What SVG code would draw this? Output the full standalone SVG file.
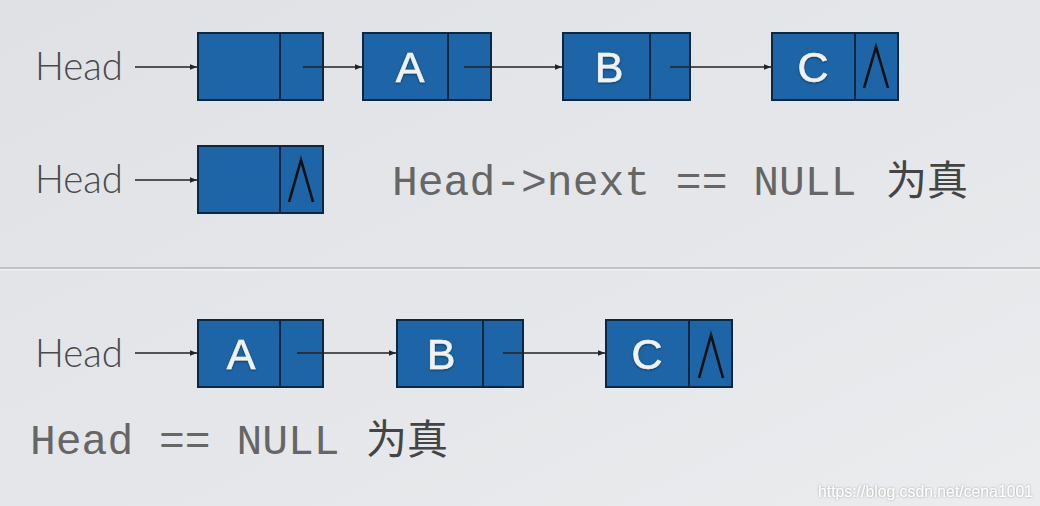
<svg xmlns="http://www.w3.org/2000/svg" width="1040" height="506" viewBox="0 0 1040 506">
<defs>
<linearGradient id="bg" x1="0" y1="0" x2="1" y2="1">
<stop offset="0" stop-color="#dfe1e4"/>
<stop offset="0.6" stop-color="#e6e7ea"/>
<stop offset="1" stop-color="#ebecee"/>
</linearGradient>
<marker id="ah" viewBox="0 0 10 10" refX="10" refY="5" markerWidth="7" markerHeight="7" markerUnits="userSpaceOnUse" orient="auto">
<path d="M0,1 L10,5 L0,9 Z" fill="#222"/>
</marker>
<filter id="sh" x="-20%" y="-20%" width="140%" height="140%">
<feDropShadow dx="0" dy="1" stdDeviation="1" flood-color="#000" flood-opacity="0.45"/>
</filter>
<filter id="wm" x="-5%" y="-30%" width="110%" height="160%">
<feDropShadow dx="0" dy="0" stdDeviation="0.8" flood-color="#666" flood-opacity="0.6"/>
</filter>
</defs>
<style>
.cell{fill:#1d65a6;stroke:#0e2740;stroke-width:2}
.div{stroke:#0e2740;stroke-width:2}
.lbl{font-family:"Liberation Sans",Arial,sans-serif;font-size:43px;fill:#f2f2f2;text-anchor:middle;stroke:#f2f2f2;stroke-width:0.6}
.head{font-family:Lato,"Open Sans",sans-serif;font-weight:300;font-size:40px;fill:#4a4a4a}
.mono{font-family:"Liberation Mono","Courier New",monospace;font-size:43px;fill:#666}
.cjk{font-family:"Noto Sans CJK SC",sans-serif;font-size:41px;fill:#444}
.nul{fill:none;stroke:#111;stroke-width:2.6;stroke-linejoin:miter}
.conn{stroke:#222;stroke-width:1.4;fill:none;marker-end:url(#ah)}
</style>
<rect width="1040" height="506" fill="url(#bg)"/>
<line x1="0" y1="268" x2="1040" y2="268" stroke="#b5b7ba" stroke-width="1.5"/>
<line x1="0" y1="269.8" x2="1040" y2="269.8" stroke="#f4f5f6" stroke-width="1"/>

<!-- Row 1 -->
<g id="head1"><text class="head" x="35" y="80" textLength="88" lengthAdjust="spacingAndGlyphs">Head</text></g>
<g id="r1n0"><rect class="cell" x="198" y="33" width="125" height="67"/><line class="div" x1="280" y1="33" x2="280" y2="100"/></g>
<g id="r1nA"><rect class="cell" x="363" y="33" width="128" height="67"/><line class="div" x1="448" y1="33" x2="448" y2="100"/><text class="lbl" x="410" y="82" filter="url(#sh)">A</text></g>
<g id="r1nB"><rect class="cell" x="563" y="33" width="127" height="67"/><line class="div" x1="650" y1="33" x2="650" y2="100"/><text class="lbl" x="609" y="82" filter="url(#sh)">B</text></g>
<g id="r1nC"><rect class="cell" x="772" y="33" width="126" height="67"/><line class="div" x1="855" y1="33" x2="855" y2="100"/><text class="lbl" x="813" y="82" filter="url(#sh)">C</text><path class="nul" d="M864,88 L876,47 L888,88"/></g>

<!-- Row 2 -->
<g id="head2"><text class="head" x="35" y="193" textLength="88" lengthAdjust="spacingAndGlyphs">Head</text></g>
<g id="r2n0"><rect class="cell" x="198" y="146" width="125" height="67"/><line class="div" x1="280" y1="146" x2="280" y2="213"/><path class="nul" d="M289,202 L301,160 L313,202"/></g>
<g id="cond1"><text class="mono" x="392" y="195">Head-&gt;next == NULL</text><text class="cjk" x="886" y="195">为真</text></g>

<!-- Row 3 -->
<g id="head3"><text class="head" x="35" y="367" textLength="88" lengthAdjust="spacingAndGlyphs">Head</text></g>
<g id="r3nA"><rect class="cell" x="198" y="320" width="125" height="67"/><line class="div" x1="280" y1="320" x2="280" y2="387"/><text class="lbl" x="241" y="369" filter="url(#sh)">A</text></g>
<g id="r3nB"><rect class="cell" x="397" y="320" width="126" height="67"/><line class="div" x1="483" y1="320" x2="483" y2="387"/><text class="lbl" x="441" y="369" filter="url(#sh)">B</text></g>
<g id="r3nC"><rect class="cell" x="606" y="320" width="126" height="67"/><line class="div" x1="689" y1="320" x2="689" y2="387"/><text class="lbl" x="647" y="369" filter="url(#sh)">C</text><path class="nul" d="M699,378 L711,335 L723,378"/></g>

<!-- Row 4 -->
<g id="cond2"><text class="mono" x="30" y="454">Head == NULL</text><text class="cjk" x="366" y="454">为真</text></g>

<g id="connectors">
<line class="conn" x1="135" y1="67" x2="197" y2="67"/>
<line class="conn" x1="303" y1="67" x2="362" y2="67"/>
<line class="conn" x1="464" y1="67" x2="562" y2="67"/>
<line class="conn" x1="670" y1="67" x2="771" y2="67"/>
<line class="conn" x1="135" y1="180" x2="197" y2="180"/>
<line class="conn" x1="135" y1="353" x2="197" y2="353"/>
<line class="conn" x1="297" y1="353" x2="396" y2="353"/>
<line class="conn" x1="503" y1="353" x2="605" y2="353"/>
</g>

<text x="818" y="497" font-family="'Liberation Sans',Arial,sans-serif" font-size="16" fill="#ffffff" filter="url(#wm)" textLength="215" lengthAdjust="spacingAndGlyphs">https://blog.csdn.net/cena1001</text>
</svg>
